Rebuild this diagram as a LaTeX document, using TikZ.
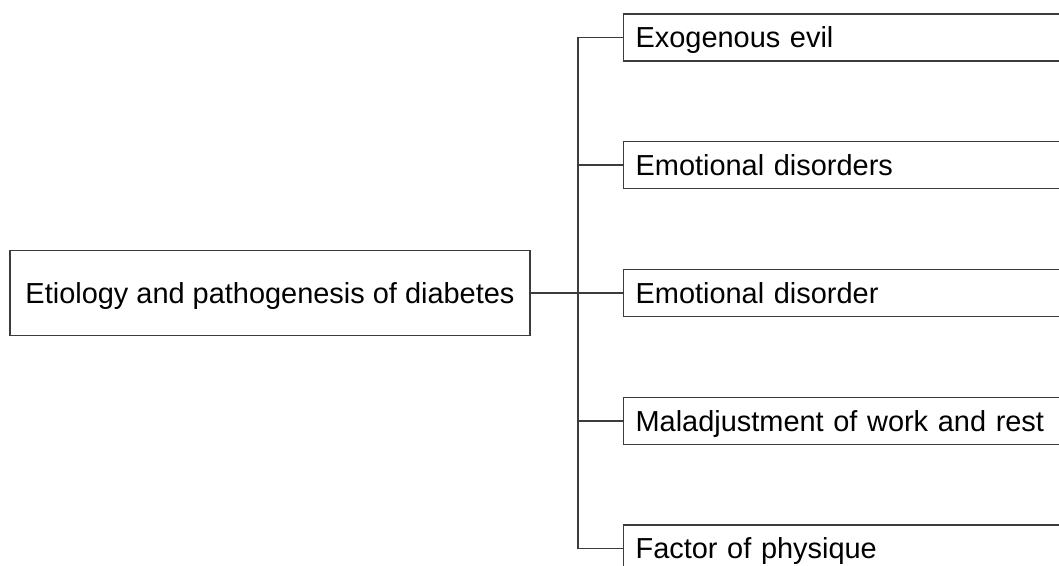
\documentclass[tikz,border=0pt]{standalone}
\usepackage{fontspec}
\setmainfont{Liberation Sans}
\definecolor{linegray}{HTML}{3C3C3C}
\tikzset{
  causebox/.style={draw=linegray, line width=0.9pt, rectangle,
    font=\fontsize{21.7}{26}\selectfont, text height=15.5pt, text depth=0pt},
  rootbox/.style={causebox, minimum width=390pt, minimum height=63.75pt, inner sep=0pt},
  leafbox/.style={causebox, anchor=west, minimum height=35.25pt,
    text width=360pt, align=left, inner xsep=9pt, inner ysep=0pt}
}
\begin{document}
\begin{tikzpicture}[x=0.75pt, y=-0.75pt]
    \useasboundingbox (0, 0) rectangle (1059, 565);
    \clip (0, 0) rectangle (1059, 565);

    \node [rootbox] (root) at (270, 293) {Etiology and pathogenesis of diabetes};

    \node [leafbox] (exo) at (623, 37.5) {Exogenous evil};
    \node [leafbox] (emos) at (623, 165) {Emotional disorders};
    \node [leafbox] (emo) at (623, 293) {Emotional disorder};
    \node [leafbox] (mal) at (623, 421) {Maladjustment of work and rest};
    \node [leafbox] (fac) at (623, 548.5) {Factor of physique};

    \coordinate (split) at (578, 293);

    \draw [linegray, line width=0.9pt] (root.east) -- (emo.west);
    \foreach \n in {exo, emos, mal, fac}
      \draw [linegray, line width=0.9pt] (split) |- (\n.west);
\end{tikzpicture}
\end{document}
